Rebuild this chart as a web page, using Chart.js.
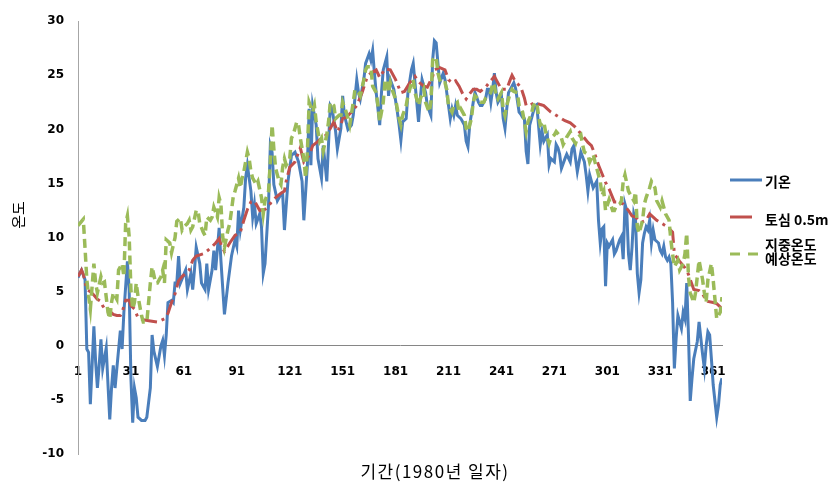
<!DOCTYPE html>
<html>
<head>
<meta charset="utf-8">
<title>기온과 지중온도 (1980)</title>
<style>
  html, body { margin: 0; padding: 0; background: #fff; }
</style>
</head>
<body>
<canvas id="myChart" width="829" height="483"></canvas>

<script src="https://cdn.jsdelivr.net/npm/chart.js"></script>
<script>
// values (day of year 1980 -> degrees C)
const airDays = [1,3,5,6,7,8,10,11,12,13,14,15,17,18,19,20,21,22,23,25,26,27,29,30,31,32,33,34,35,37,39,40,42,43,44,46,48,49,50,51,52,54,55,56,57,58,59,62,63,65,66,67,68,70,71,73,74,75,77,78,79,81,82,84,86,88,90,91,92,93,95,96,97,99,100,101,102,104,105,106,107,109,110,111,112,114,116,117,118,120,122,124,126,128,129,131,132,133,134,136,137,139,140,142,144,145,147,148,150,151,152,154,156,157,159,160,161,163,164,166,167,168,169,170,172,173,174,176,177,178,180,182,183,184,185,187,188,190,191,192,194,195,196,198,199,201,202,203,204,205,206,208,209,210,211,212,213,214,215,216,218,219,220,221,222,223,225,226,228,229,230,232,233,234,235,236,237,238,239,241,242,243,244,245,246,248,249,251,252,253,254,255,256,257,258,260,261,262,263,264,265,267,268,269,271,272,273,274,275,277,278,280,281,282,284,285,286,288,289,290,291,292,293,295,296,297,298,299,300,301,302,304,305,306,308,309,310,311,312,313,314,315,316,317,318,319,320,321,322,323,324,325,326,327,328,330,331,332,333,334,335,336,337,338,339,340,341,342,343,344,345,346,347,348,349,350,352,353,354,355,356,357,358,359,360,361,362,363,364,365,366];
const airTemp = [6.3,7.0,6.1,-0.3,-0.6,-5.4,1.8,-1.5,-3.9,-1.8,0.6,-2.1,-0.2,-3.6,-6.8,-3.9,-1.8,-3.9,-2.1,1.4,-0.3,3.1,7.8,5.2,-3.0,-7.1,-3.9,-4.8,-6.6,-6.9,-6.9,-6.6,-3.9,1.0,-0.5,-1.9,0.0,0.5,-0.9,1.0,4.0,4.2,4.0,5.8,5.8,8.3,5.8,7.0,5.2,6.7,5.2,7.0,9.1,7.6,5.8,5.2,7.6,5.2,7.0,8.8,7.0,10.9,7.9,2.9,5.8,8.3,9.8,9.2,12.5,10.7,12.8,15.5,16.7,14.3,11.9,13.1,11.3,12.2,11.0,6.7,7.6,13.1,18.5,17.9,14.9,13.4,14.0,14.0,10.7,15.2,17.6,17.9,17.0,15.2,11.6,16.7,21.9,16.7,22.2,20.4,17.3,15.5,18.5,15.2,22.2,21.9,19.8,18.2,20.1,23.1,21.3,20.0,20.4,21.3,24.6,23.4,22.8,24.6,26.1,27.0,26.4,27.3,25.2,23.4,20.4,23.4,25.5,26.7,23.1,24.6,23.7,21.6,20.4,19.0,20.7,21.0,23.4,25.5,26.1,24.3,20.7,22.8,24.6,23.4,22.2,21.3,26.4,28.2,28.0,26.1,24.3,25.2,24.6,23.4,22.2,21.0,21.9,21.3,22.2,21.3,21.0,20.7,20.4,18.9,18.4,20.4,22.5,23.4,22.5,22.2,22.2,22.8,23.7,23.7,22.5,23.7,25.2,23.4,22.5,23.1,21.0,20.1,21.9,23.4,23.7,24.3,23.8,21.6,21.4,21.1,21.0,18.0,16.8,20.4,21.0,22.2,22.3,20.4,18.6,19.8,18.9,19.5,16.7,17.3,17.0,18.6,18.3,17.7,16.4,17.3,17.7,17.0,18.2,18.5,16.1,17.0,17.9,17.0,15.8,14.3,15.8,15.2,14.6,15.2,11.6,9.5,10.8,11.0,5.5,9.5,9.2,9.8,8.5,8.8,9.8,10.1,8.0,13.1,12.5,8.5,7.0,9.1,12.2,11.6,6.7,4.9,6.1,9.5,10.4,11.0,10.7,11.6,9.5,10.7,9.8,9.5,8.8,8.5,9.2,8.2,7.9,8.2,7.6,4.0,-2.1,0.7,2.8,2.2,1.6,3.1,2.5,5.8,1.0,-5.1,-3.0,-1.2,0.4,2.2,0.7,-0.8,-2.1,0.0,1.3,1.0,-1.2,-3.6,-5.1,-6.6,-5.5,-3.6,-3.0];

const soilDays = [1,3,4,6,8,10,12,14,15,17,19,21,23,25,26,28,30,31,33,35,38,42,46,50,52,54,56,58,60,64,66,68,72,76,79,81,82,84,87,90,93,95,97,99,101,104,107,109,111,113,116,118,119,121,124,127,129,132,134,137,139,142,146,148,150,151,153,156,159,162,165,167,170,172,175,178,181,184,186,189,192,194,197,199,202,203,206,209,211,213,215,217,219,221,223,225,227,229,232,235,237,241,244,246,247,249,252,254,255,257,260,263,265,267,269,272,277,280,283,287,290,292,294,296,298,300,302,305,307,310,313,315,317,320,323,325,327,329,332,335,338,339,342,345,347,350,353,355,356,358,361,363,365,366];
const soilTemp = [6.4,7.0,6.6,5.2,5.0,4.7,4.3,4.1,3.7,3.2,3.2,2.9,2.8,2.8,3.1,4.2,4.2,3.7,3.4,2.6,2.4,2.3,2.2,2.5,3.0,4.0,4.8,6.0,6.4,7.0,7.9,8.3,8.5,9.0,9.5,9.9,9.4,8.7,9.5,10.2,10.5,11.6,12.6,13.3,13.4,12.5,12.6,12.9,13.4,13.7,14.1,14.3,15.2,16.5,17.0,18.3,17.0,17.6,18.5,18.9,19.2,19.5,20.7,19.8,20.4,21.0,21.1,21.6,22.2,23.4,24.9,25.2,25.5,24.8,25.6,25.5,24.6,23.4,23.5,24.3,24.9,24.4,24.0,23.9,24.9,25.5,25.7,25.5,24.6,24.3,24.5,24.0,23.3,22.8,23.3,23.7,23.7,23.5,23.9,24.5,24.9,23.7,23.7,24.6,25.0,24.4,23.9,22.9,22.2,22.2,22.5,22.3,22.2,21.9,21.6,21.3,20.8,20.6,20.2,19.4,18.8,18.5,17.7,16.7,15.9,15.1,14.5,13.3,13.3,13.1,12.5,12.0,11.9,11.4,11.6,12.2,11.9,11.6,11.3,11.0,10.5,8.5,7.8,7.2,6.6,5.2,5.1,4.8,4.5,4.1,4.0,3.9,3.6,3.3];

const predDays = [1,3,4,5,6,7,8,10,11,12,14,15,16,18,19,20,21,23,24,26,27,28,29,30,31,32,33,34,35,37,38,40,41,42,43,45,46,48,49,50,51,53,54,56,57,59,60,61,63,64,65,66,68,69,70,72,73,74,76,77,78,80,81,82,83,84,86,87,88,89,90,92,93,94,95,97,98,99,100,102,103,105,106,107,109,110,111,112,113,114,115,116,117,118,119,121,122,123,125,126,127,129,130,131,132,134,135,136,138,139,140,142,143,144,146,147,149,150,151,153,154,155,157,158,160,161,163,164,165,167,168,170,171,172,174,175,176,177,178,179,181,183,184,185,187,188,190,191,192,194,195,197,198,200,201,202,204,205,206,207,209,210,211,213,214,216,217,218,220,221,222,224,225,226,228,229,231,232,234,235,236,237,238,239,241,242,243,244,246,247,248,250,251,253,254,255,256,258,259,261,262,263,265,266,268,269,271,272,273,275,276,277,278,280,281,283,284,286,287,288,290,291,293,294,295,297,298,299,300,302,303,304,305,306,308,309,310,311,313,314,316,317,318,319,321,322,323,325,326,328,329,331,332,333,334,336,337,338,339,341,342,344,345,346,347,348,350,351,352,353,355,356,357,358,360,361,362,363,365,366];
const predTemp = [11.1,11.5,11.7,9.0,6.1,4.6,3.4,7.6,5.8,4.9,6.4,5.8,5.9,3.1,2.5,4.0,4.9,4.3,7.0,7.6,6.4,11.3,12.0,10.1,5.2,3.4,4.0,5.8,4.6,2.8,2.2,2.2,4.0,5.8,7.3,5.8,5.8,6.4,7.0,5.8,9.8,9.5,8.6,10.0,11.5,11.8,10.7,11.0,11.3,11.6,10.7,11.0,12.5,12.5,11.3,10.5,10.2,11.9,11.6,11.9,12.8,11.9,13.7,13.1,10.1,9.1,10.7,11.3,12.5,13.8,14.3,15.5,14.6,15.5,16.1,17.9,17.3,16.1,15.5,14.9,15.2,13.7,12.2,13.4,14.3,17.0,20.4,18.2,16.4,15.8,15.2,14.9,16.5,17.3,16.7,17.3,19.2,19.5,20.7,20.4,19.2,17.3,15.5,17.9,22.5,21.6,22.2,20.7,18.9,19.2,18.0,19.5,20.7,22.5,22.2,21.0,21.3,21.3,22.5,21.6,21.0,20.4,22.5,23.7,23.4,23.1,24.6,25.5,25.8,25.8,24.0,23.4,22.2,20.7,22.5,24.5,24.6,23.4,24.3,23.7,22.8,21.0,20.4,21.3,22.2,23.1,24.3,24.6,23.4,22.2,22.8,23.7,22.5,21.6,22.5,26.4,26.7,25.2,24.6,24.2,24.3,23.7,22.2,21.6,22.2,22.5,21.6,21.9,21.3,20.1,19.8,21.0,22.5,23.1,22.8,22.5,22.5,22.9,23.2,23.4,24.3,24.0,23.1,22.8,23.4,21.9,21.3,22.2,23.4,23.7,23.5,23.4,22.2,21.6,20.7,19.8,20.7,21.4,22.2,22.5,21.3,20.4,20.7,19.8,18.7,19.2,19.5,19.8,19.6,19.2,18.6,18.9,19.3,19.8,19.2,18.7,19.2,19.5,18.6,17.9,17.7,17.0,17.7,17.0,16.4,15.2,13.9,14.3,12.5,13.5,13.0,12.5,12.5,12.9,13.1,13.4,15.2,15.8,14.3,14.0,13.4,14.2,11.0,10.4,11.6,13.1,13.7,14.6,15.2,14.6,13.4,12.8,13.4,12.8,12.2,11.6,9.8,8.5,7.3,7.9,7.0,7.6,8.5,10.4,6.4,4.9,4.0,4.9,6.4,7.9,6.1,4.9,4.0,6.1,7.6,6.1,4.3,2.5,3.1,4.5];

const xTickDays = [1, 31, 61, 91, 121, 151, 181, 211, 241, 271, 301, 331, 361];
const seriesNames = ['기온', '토심 0.5m', ['지중온도', '예상온도']];
const seriesColors = ['#4A7EBB', '#C0504D', '#9BBB59'];
const xTitle = '기간(1980년 일자)';
const yTitle = '온도';

function pairs(days, vals) {
    return days.map((d, i) => ({ x: d, y: vals[i] }));
}

const tickFont = { family: 'DejaVu Sans', size: 12, weight: 'bold' };

// axis titles and the legend on the right
const sideText = {
    id: 'sideText',
    afterDraw(chart) {
        const ctx = chart.ctx;
        ctx.save();
        ctx.fillStyle = '#000';
        ctx.textBaseline = 'middle';

        ctx.font = '17px "Noto Sans CJK KR"';
        ctx.textAlign = 'center';
        ctx.letterSpacing = '1.5px';
        ctx.fillText(xTitle, 435, 472);
        ctx.letterSpacing = '0px';

        ctx.save();
        ctx.translate(18, 215);
        ctx.rotate(-Math.PI / 2);
        ctx.font = '15px "Noto Sans CJK KR"';
        ctx.fillText(yTitle, 0, 0);
        ctx.restore();

        ctx.textAlign = 'left';
        ctx.font = 'bold 14px "Noto Sans CJK KR"';

        // 기온
        ctx.strokeStyle = seriesColors[0];
        ctx.lineWidth = 3;
        ctx.setLineDash([]);
        ctx.beginPath(); ctx.moveTo(730, 180); ctx.lineTo(762, 180); ctx.stroke();
        ctx.fillText(seriesNames[0], 765, 182);

        // 토심 0.5m
        ctx.strokeStyle = seriesColors[1];
        ctx.beginPath(); ctx.moveTo(730, 217); ctx.lineTo(752, 217); ctx.stroke();
        ctx.fillText(seriesNames[1], 765, 220);

        // 지중온도 예상온도
        ctx.strokeStyle = seriesColors[2];
        ctx.setLineDash([10, 8]);
        ctx.beginPath(); ctx.moveTo(730, 254); ctx.lineTo(760, 254); ctx.stroke();
        ctx.fillText(seriesNames[2][0], 765, 245);
        ctx.fillText(seriesNames[2][1], 765, 259);

        ctx.restore();
    }
};

new Chart(document.getElementById('myChart'), {
    type: 'line',
    data: {
        datasets: [
            {
                label: seriesNames[0],
                data: pairs(airDays, airTemp),
                borderColor: seriesColors[0],
                borderWidth: 3,
                order: 3
            },
            {
                label: seriesNames[1],
                data: pairs(soilDays, soilTemp),
                borderColor: seriesColors[1],
                borderWidth: 3,
                borderDash: [16, 5, 3, 5],
                order: 2
            },
            {
                label: seriesNames[2].join(' '),
                data: pairs(predDays, predTemp),
                borderColor: seriesColors[2],
                borderWidth: 3.5,
                borderDash: [9, 5],
                order: 1
            }
        ]
    },
    options: {
        responsive: false,
        animation: false,
        layout: { padding: { left: 0, right: 107, top: 14, bottom: 29 } },
        elements: {
            point: { radius: 0 },
            line: { tension: 0, fill: false }
        },
        plugins: {
            legend: { display: false },
            tooltip: { enabled: false }
        },
        scales: {
            x: {
                type: 'linear',
                min: 1,
                max: 366,
                position: { y: 0 },
                grid: { display: false, drawTicks: false },
                border: { display: true, color: '#868686', width: 1 },
                afterBuildTicks: (scale) => {
                    scale.ticks = xTickDays.map(v => ({ value: v }));
                },
                ticks: {
                    autoSkip: false,
                    maxRotation: 0,
                    padding: 19,
                    color: '#000',
                    font: tickFont,
                    callback: (v) => String(v)
                }
            },
            y: {
                min: -10,
                max: 30,
                grid: { display: false, drawTicks: false },
                border: { display: true, color: '#A6A6A6', width: 1 },
                ticks: { stepSize: 5, padding: 14, color: '#000', font: tickFont },
                afterFit: (scale) => { scale.width = 78; }
            }
        }
    },
    plugins: [sideText]
});
</script>
</body>
</html>
